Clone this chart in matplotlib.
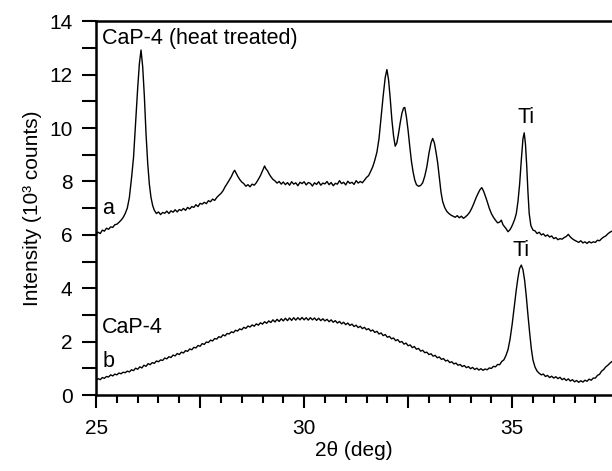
#XRD scans of CaP-4 coating before and after heat treatment
import matplotlib
matplotlib.use("Agg")
import matplotlib.pyplot as plt
from matplotlib.ticker import MultipleLocator, FuncFormatter

plt.rcParams['font.family'] = ['Liberation Sans', 'DejaVu Sans']

# Data: (2theta in deg, intensity in 10^3 counts)
# a: CaP-4 heat treated
scan_a = [
    (25.00, 6.02), (25.05, 6.10), (25.10, 6.05), (25.15, 6.18), (25.20, 6.14), (25.25, 6.25),
    (25.30, 6.21), (25.35, 6.30), (25.40, 6.28), (25.45, 6.38), (25.50, 6.40), (25.55, 6.47),
    (25.60, 6.55), (25.65, 6.65), (25.70, 6.80), (25.75, 7.00), (25.80, 7.40), (25.85, 8.10),
    (25.90, 8.90), (25.95, 10.20), (26.00, 11.50), (26.04, 12.40), (26.08, 12.92), (26.12, 12.30),
    (26.16, 11.20), (26.20, 9.80), (26.24, 8.70), (26.28, 7.90), (26.32, 7.40), (26.36, 7.10),
    (26.40, 6.92), (26.45, 6.80), (26.50, 6.86), (26.55, 6.76), (26.60, 6.84), (26.65, 6.81),
    (26.70, 6.89), (26.75, 6.80), (26.80, 6.90), (26.85, 6.85), (26.90, 6.94), (26.95, 6.86),
    (27.00, 6.95), (27.05, 6.91), (27.10, 6.99), (27.15, 6.92), (27.20, 7.03), (27.25, 6.97),
    (27.30, 7.06), (27.35, 7.03), (27.40, 7.13), (27.45, 7.06), (27.50, 7.18), (27.55, 7.15),
    (27.60, 7.22), (27.65, 7.17), (27.70, 7.28), (27.75, 7.24), (27.80, 7.34), (27.85, 7.29),
    (27.90, 7.40), (27.95, 7.48), (28.00, 7.55), (28.05, 7.65), (28.10, 7.80), (28.15, 7.92),
    (28.20, 8.05), (28.25, 8.18), (28.30, 8.35), (28.33, 8.42), (28.37, 8.30), (28.41, 8.18),
    (28.45, 8.08), (28.50, 7.98), (28.55, 7.92), (28.60, 7.82), (28.65, 7.88), (28.70, 7.80),
    (28.75, 7.90), (28.80, 7.86), (28.85, 7.95), (28.90, 8.08), (28.95, 8.22), (29.00, 8.40),
    (29.05, 8.58), (29.08, 8.48), (29.12, 8.40), (29.16, 8.28), (29.20, 8.18), (29.25, 8.08),
    (29.30, 8.02), (29.35, 7.94), (29.40, 8.00), (29.45, 7.90), (29.50, 7.98), (29.55, 7.88),
    (29.60, 7.96), (29.65, 7.86), (29.70, 7.99), (29.75, 7.90), (29.80, 7.95), (29.85, 7.84),
    (29.90, 7.97), (29.95, 7.92), (30.00, 7.99), (30.05, 7.87), (30.10, 7.96), (30.15, 7.93),
    (30.20, 7.83), (30.25, 7.95), (30.30, 7.89), (30.35, 7.99), (30.40, 7.86), (30.45, 7.94),
    (30.50, 7.91), (30.55, 8.00), (30.60, 7.88), (30.65, 7.96), (30.70, 7.84), (30.75, 7.93),
    (30.80, 7.90), (30.85, 8.03), (30.90, 7.92), (30.95, 7.97), (31.00, 7.87), (31.05, 8.01),
    (31.10, 7.93), (31.15, 7.97), (31.20, 7.89), (31.25, 8.03), (31.30, 7.94), (31.35, 8.00),
    (31.40, 7.95), (31.45, 8.05), (31.50, 8.15), (31.55, 8.22), (31.60, 8.38), (31.65, 8.55),
    (31.70, 8.80), (31.75, 9.10), (31.80, 9.60), (31.85, 10.40), (31.90, 11.20), (31.95, 11.90),
    (31.99, 12.19), (32.03, 11.80), (32.07, 11.10), (32.11, 10.30), (32.15, 9.70), (32.19, 9.32),
    (32.23, 9.45), (32.27, 9.80), (32.31, 10.20), (32.35, 10.55), (32.39, 10.75), (32.42, 10.77),
    (32.46, 10.40), (32.50, 9.90), (32.54, 9.30), (32.58, 8.75), (32.62, 8.35), (32.66, 8.05),
    (32.70, 7.88), (32.75, 7.82), (32.80, 7.85), (32.85, 7.95), (32.90, 8.20), (32.95, 8.55),
    (33.00, 9.05), (33.05, 9.45), (33.09, 9.61), (33.13, 9.45), (33.17, 9.10), (33.21, 8.70),
    (33.25, 8.15), (33.29, 7.60), (33.33, 7.25), (33.38, 7.02), (33.43, 6.88), (33.48, 6.80),
    (33.53, 6.74), (33.58, 6.70), (33.63, 6.66), (33.68, 6.72), (33.73, 6.64), (33.78, 6.70),
    (33.83, 6.62), (33.88, 6.68), (33.93, 6.75), (33.98, 6.85), (34.03, 7.00), (34.08, 7.18),
    (34.13, 7.38), (34.18, 7.55), (34.23, 7.70), (34.27, 7.77), (34.31, 7.65), (34.35, 7.48),
    (34.40, 7.25), (34.45, 7.00), (34.50, 6.80), (34.55, 6.66), (34.60, 6.55), (34.65, 6.45),
    (34.70, 6.48), (34.74, 6.55), (34.78, 6.38), (34.82, 6.30), (34.86, 6.22), (34.90, 6.12),
    (34.94, 6.18), (34.98, 6.28), (35.02, 6.42), (35.06, 6.58), (35.10, 6.80), (35.14, 7.25),
    (35.18, 7.90), (35.22, 8.80), (35.26, 9.60), (35.29, 9.82), (35.32, 9.40), (35.35, 8.60),
    (35.38, 7.60), (35.41, 6.80), (35.45, 6.35), (35.50, 6.18), (35.55, 6.15), (35.60, 6.05),
    (35.65, 6.10), (35.70, 6.00), (35.75, 6.04), (35.80, 5.95), (35.85, 6.00), (35.90, 5.92),
    (35.95, 5.96), (36.00, 5.86), (36.05, 5.90), (36.10, 5.82), (36.15, 5.86), (36.20, 5.84),
    (36.25, 5.90), (36.30, 5.94), (36.35, 6.02), (36.40, 5.92), (36.45, 5.85), (36.50, 5.80),
    (36.55, 5.76), (36.60, 5.72), (36.65, 5.78), (36.70, 5.70), (36.75, 5.74), (36.80, 5.68),
    (36.85, 5.75), (36.90, 5.70), (36.95, 5.74), (37.00, 5.72), (37.05, 5.80), (37.10, 5.78),
    (37.15, 5.86), (37.20, 5.92), (37.25, 5.96), (37.30, 6.04), (37.35, 6.10), (37.40, 6.14),
]

# b: CaP-4 as deposited
scan_b = [
    (25.00, 0.55), (25.05, 0.62), (25.10, 0.58), (25.15, 0.66), (25.20, 0.63), (25.25, 0.70),
    (25.30, 0.68), (25.35, 0.76), (25.40, 0.72), (25.45, 0.79), (25.50, 0.76), (25.55, 0.83),
    (25.60, 0.80), (25.65, 0.86), (25.70, 0.84), (25.75, 0.90), (25.80, 0.87), (25.85, 0.95),
    (25.90, 0.92), (25.95, 1.01), (26.00, 0.97), (26.05, 1.06), (26.10, 1.02), (26.15, 1.12),
    (26.20, 1.08), (26.25, 1.18), (26.30, 1.14), (26.35, 1.22), (26.40, 1.19), (26.45, 1.28),
    (26.50, 1.25), (26.55, 1.32), (26.60, 1.30), (26.65, 1.39), (26.70, 1.36), (26.75, 1.44),
    (26.80, 1.41), (26.85, 1.50), (26.90, 1.47), (26.95, 1.56), (27.00, 1.52), (27.05, 1.61),
    (27.10, 1.58), (27.15, 1.67), (27.20, 1.64), (27.25, 1.73), (27.30, 1.70), (27.35, 1.79),
    (27.40, 1.77), (27.45, 1.86), (27.50, 1.83), (27.55, 1.93), (27.60, 1.90), (27.65, 1.99),
    (27.70, 1.97), (27.75, 2.06), (27.80, 2.03), (27.85, 2.12), (27.90, 2.10), (27.95, 2.19),
    (28.00, 2.16), (28.05, 2.26), (28.10, 2.22), (28.15, 2.31), (28.20, 2.29), (28.25, 2.37),
    (28.30, 2.34), (28.35, 2.43), (28.40, 2.40), (28.45, 2.48), (28.50, 2.45), (28.55, 2.54),
    (28.60, 2.50), (28.65, 2.59), (28.70, 2.55), (28.75, 2.63), (28.80, 2.58), (28.85, 2.67),
    (28.90, 2.62), (28.95, 2.71), (29.00, 2.66), (29.05, 2.75), (29.10, 2.69), (29.15, 2.78),
    (29.20, 2.72), (29.25, 2.82), (29.30, 2.74), (29.35, 2.84), (29.40, 2.76), (29.45, 2.86),
    (29.50, 2.78), (29.55, 2.88), (29.60, 2.79), (29.65, 2.89), (29.70, 2.80), (29.75, 2.90),
    (29.80, 2.81), (29.85, 2.90), (29.90, 2.82), (29.95, 2.91), (30.00, 2.82), (30.05, 2.90),
    (30.10, 2.81), (30.15, 2.90), (30.20, 2.82), (30.25, 2.89), (30.30, 2.80), (30.35, 2.88),
    (30.40, 2.79), (30.45, 2.86), (30.50, 2.78), (30.55, 2.84), (30.60, 2.75), (30.65, 2.82),
    (30.70, 2.73), (30.75, 2.79), (30.80, 2.70), (30.85, 2.76), (30.90, 2.67), (30.95, 2.73),
    (31.00, 2.64), (31.05, 2.70), (31.10, 2.61), (31.15, 2.66), (31.20, 2.57), (31.25, 2.62),
    (31.30, 2.53), (31.35, 2.58), (31.40, 2.49), (31.45, 2.54), (31.50, 2.45), (31.55, 2.49),
    (31.60, 2.40), (31.65, 2.44), (31.70, 2.35), (31.75, 2.39), (31.80, 2.29), (31.85, 2.33),
    (31.90, 2.23), (31.95, 2.27), (32.00, 2.17), (32.05, 2.20), (32.10, 2.11), (32.15, 2.14),
    (32.20, 2.04), (32.25, 2.08), (32.30, 1.98), (32.35, 2.01), (32.40, 1.91), (32.45, 1.95),
    (32.50, 1.85), (32.55, 1.88), (32.60, 1.78), (32.65, 1.82), (32.70, 1.72), (32.75, 1.75),
    (32.80, 1.65), (32.85, 1.68), (32.90, 1.59), (32.95, 1.61), (33.00, 1.52), (33.05, 1.55),
    (33.10, 1.46), (33.15, 1.49), (33.20, 1.40), (33.25, 1.43), (33.30, 1.34), (33.35, 1.37),
    (33.40, 1.28), (33.45, 1.31), (33.50, 1.22), (33.55, 1.25), (33.60, 1.17), (33.65, 1.20),
    (33.70, 1.12), (33.75, 1.15), (33.80, 1.07), (33.85, 1.11), (33.90, 1.03), (33.95, 1.07),
    (34.00, 0.99), (34.05, 1.04), (34.10, 0.96), (34.15, 1.01), (34.20, 0.94), (34.25, 0.99),
    (34.30, 0.93), (34.35, 0.98), (34.40, 0.95), (34.45, 1.02), (34.50, 1.00), (34.55, 1.08),
    (34.60, 1.06), (34.65, 1.15), (34.70, 1.14), (34.75, 1.26), (34.80, 1.32), (34.85, 1.48),
    (34.90, 1.70), (34.95, 2.10), (35.00, 2.65), (35.05, 3.30), (35.10, 3.95), (35.14, 4.40),
    (35.18, 4.75), (35.22, 4.87), (35.26, 4.70), (35.30, 4.30), (35.34, 3.70), (35.38, 3.00),
    (35.42, 2.35), (35.46, 1.75), (35.50, 1.32), (35.55, 1.05), (35.60, 0.90), (35.65, 0.82),
    (35.70, 0.76), (35.75, 0.79), (35.80, 0.70), (35.85, 0.74), (35.90, 0.66), (35.95, 0.71),
    (36.00, 0.64), (36.05, 0.69), (36.10, 0.62), (36.15, 0.67), (36.20, 0.58), (36.25, 0.63),
    (36.30, 0.55), (36.35, 0.61), (36.40, 0.53), (36.45, 0.58), (36.50, 0.50), (36.55, 0.55),
    (36.60, 0.48), (36.65, 0.54), (36.70, 0.49), (36.75, 0.56), (36.80, 0.52), (36.85, 0.60),
    (36.90, 0.56), (36.95, 0.64), (37.00, 0.64), (37.05, 0.74), (37.10, 0.78), (37.15, 0.90),
    (37.20, 0.96), (37.25, 1.06), (37.30, 1.12), (37.35, 1.20), (37.40, 1.26),
]

two_theta_a, counts_a = zip(*scan_a)
two_theta_b, counts_b = zip(*scan_b)

fig = plt.figure(figsize=(6.12, 4.71), dpi=100)
ax = fig.add_axes([0.157, 0.161, 0.843, 0.794])

ax.plot(two_theta_a, counts_a, color="black", lw=1.0)
ax.plot(two_theta_b, counts_b, color="black", lw=1.0)

ax.set_xlim(25, 37.4)
ax.set_ylim(0, 14)

# ticks
ax.xaxis.set_major_locator(MultipleLocator(2.5))
ax.xaxis.set_minor_locator(MultipleLocator(0.5))
ax.xaxis.set_major_formatter(FuncFormatter(lambda v, p: "%d" % v if v % 5 == 0 else ""))
ax.yaxis.set_major_locator(MultipleLocator(2))
ax.yaxis.set_minor_locator(MultipleLocator(1))
ax.tick_params(axis="x", which="major", direction="out", length=9.5, width=1.5, labelsize=15, pad=8)
ax.tick_params(axis="x", which="minor", direction="out", length=6, width=1.5)
ax.tick_params(axis="y", which="both", direction="out", length=10, width=1.5, labelsize=15, pad=7)

for s in ["left", "bottom", "top"]:
    ax.spines[s].set_linewidth(1.8)
ax.spines["right"].set_visible(False)

# Labels
ax.set_xlabel("2θ (deg)", fontsize=15, labelpad=2)
ax.set_ylabel("Intensity (10³ counts)", fontsize=15, labelpad=5)

# annotations
ax.text(25.15, 13.35, "CaP-4 (heat treated)", fontsize=15.5, va="center", ha="left")
ax.text(25.15, 7.0, "a", fontsize=15.5, va="center", ha="left")
ax.text(25.15, 2.55, "CaP-4", fontsize=15.5, va="center", ha="left")
ax.text(25.15, 1.25, "b", fontsize=15.5, va="center", ha="left")
ax.text(35.33, 10.4, "Ti", fontsize=15.5, va="center", ha="center")
ax.text(35.22, 5.4, "Ti", fontsize=15.5, va="center", ha="center")

plt.savefig("out.png", dpi=100)
